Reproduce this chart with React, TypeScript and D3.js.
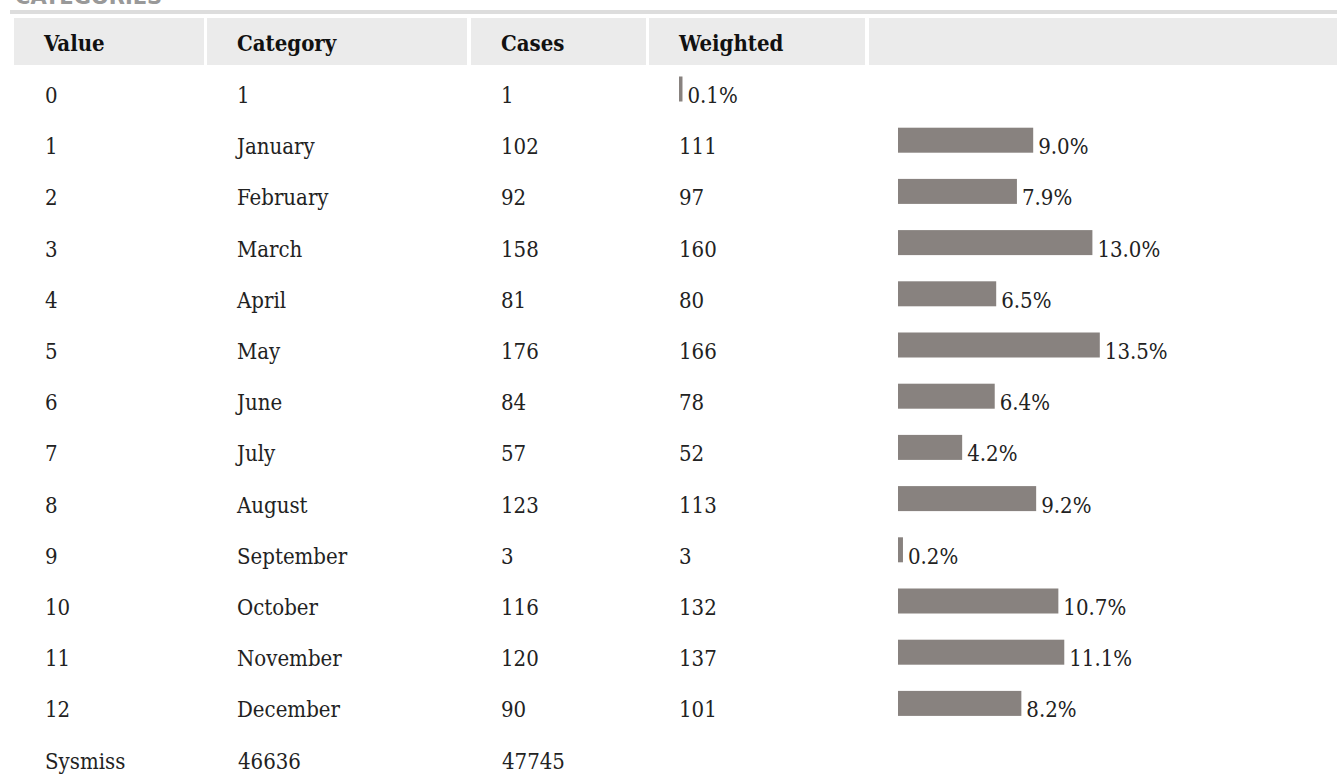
import React from 'react';
import * as d3 from 'd3';

// Frequency table data
const values = ['0', '1', '2', '3', '4', '5', '6', '7', '8', '9', '10', '11', '12'];
const categories = ['1', 'January', 'February', 'March', 'April', 'May', 'June', 'July', 'August', 'September', 'October', 'November', 'December'];
const cases = [1, 102, 92, 158, 81, 176, 84, 57, 123, 3, 116, 120, 90];
const weighted = [null, 111, 97, 160, 80, 166, 78, 52, 113, 3, 132, 137, 101];
const percents = [0.1, 9.0, 7.9, 13.0, 6.5, 13.5, 6.4, 4.2, 9.2, 0.2, 10.7, 11.1, 8.2];
const missingRow = ['Sysmiss', '46636', '47745'];
const headers = ['Value', 'Category', 'Cases', 'Weighted', ''];

const W = 1337;
const H = 780;
const FONT = "'DejaVu Serif Condensed', 'DejaVu Serif', serif";

// column cells [left, right]
const cols: [number, number][] = [[14, 204], [207, 467], [471, 646], [649, 865], [869, 1337]];
const PAD = 30;
const FS = 22;

export default function App() {
  const rowY = d3.scaleLinear().domain([0, 1]).range([101.5, 152.7]);
  const barW = d3.scaleLinear().domain([0, 100]).range([0, 1480]);
  const barH = 25;
  const dy = 1.5; // text baseline sits a touch below bar bottom

  return (
    <div style={{ position: 'absolute', left: 0, top: 0 }}>
      <svg width={W} height={H} style={{ display: 'block' }} fontFamily={FONT} fontStretch="condensed">
        <rect width={W} height={H} fill="#fff" />
        {/* section title, cut off at top */}
        <text x={15} y={4} fontFamily="'DejaVu Sans', sans-serif" fontWeight="bold" fontSize={21} fill="#999" fontStretch="normal">CATEGORIES</text>
        <rect x={10} y={10} width={W - 10} height={4} fill="#dddddd" />

        {/* header row */}
        {cols.map(([l, r], i) => (
          <g key={'h' + i}>
            <rect x={l} y={18} width={r - l} height={47} fill="#ebebeb" />
            <text x={l + PAD} y={50.5} fontSize={FS} fontWeight="bold" fill="#111">{headers[i]}</text>
          </g>
        ))}

        {/* body rows */}
        {values.map((v, i) => {
          const y = rowY(i);
          const barX = i === 0 ? cols[3][0] + PAD : cols[4][0] + PAD - 1;
          const w = barW(percents[i]) + 2;
          return (
            <g key={'r' + i} fontSize={FS} fill="#222">
              <text x={cols[0][0] + PAD + 1} y={y + dy}>{v}</text>
              <text x={cols[1][0] + PAD} y={y + dy}>{categories[i]}</text>
              <text x={cols[2][0] + PAD} y={y + dy}>{cases[i]}</text>
              {weighted[i] !== null && <text x={cols[3][0] + PAD} y={y + dy}>{weighted[i]}</text>}
              <rect x={barX} y={y - barH} width={w} height={barH} fill="#88827f" />
              <text x={barX + w + 5} y={y + dy}>{percents[i].toFixed(1)}%</text>
            </g>
          );
        })}

        {/* system missing row */}
        <g fontSize={FS} fill="#222">
          {missingRow.map((t, j) => (
            <text key={'m' + j} x={cols[j][0] + PAD + 1} y={rowY(values.length) + dy}>{t}</text>
          ))}
        </g>
      </svg>
    </div>
  );
}
